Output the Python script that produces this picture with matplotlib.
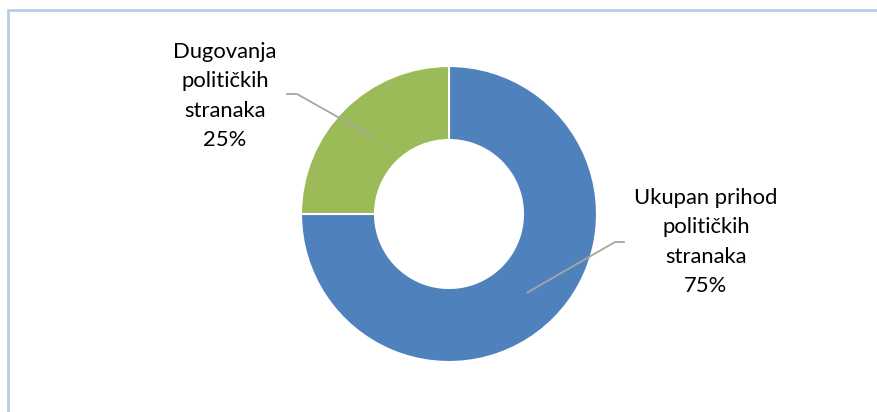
import numpy as np
import matplotlib.pyplot as plt
from matplotlib.patches import Rectangle

labels = ['Ukupan prihod\npolitičkih\nstranaka', 'Dugovanja\npolitičkih\nstranaka']
values = [75, 25]
colors = ['#4F81BD', '#9BBB59']

W, H = 878, 412
cx, cy, R = 449, 214, 148  # donut centre and radius in pixels

fig = plt.figure(figsize=(W / 100, H / 100), dpi=100)
ax = fig.add_axes([0, 0, 1, 1])

# chart frame (runs off the right and bottom edge)
fig.patches.append(Rectangle((8 / W, -0.1), 1.2, (H - 10) / H + 0.1,
                             transform=fig.transFigure, fill=False,
                             edgecolor='#B9CDE5', linewidth=2.0))

wedges, _ = ax.pie(values, colors=colors, startangle=90, counterclock=False,
                   radius=1.0, wedgeprops=dict(width=0.5, edgecolor='white', linewidth=1.5))

# pie() resets the limits, so set them afterwards
ax.set_xlim(-cx / R, (W - cx) / R)
ax.set_ylim(-(H - cy) / R, cy / R)
ax.set_aspect('equal')
ax.axis('off')


def px(x, y):
    return (x - cx) / R, (cy - y) / R


# label text positions and leader elbow points (pixels)
text_pos = [(706, 242), (225, 96)]
elbow = [((615, 242), (624, 242)), ((297, 94), (287, 94))]

for w, lab, val, tp, el in zip(wedges, labels, values, text_pos, elbow):
    ang = np.deg2rad((w.theta1 + w.theta2) / 2)
    r = 0.75
    p0 = (r * np.cos(ang), r * np.sin(ang))
    pts = [p0, px(*el[0]), px(*el[1])]
    ax.plot([p[0] for p in pts], [p[1] for p in pts], color='#A6A6A6', linewidth=1.3)
    ax.text(*px(*tp), f'{lab}\n{val}%', ha='center', va='center',
            fontsize=15.8, family='Lato', linespacing=1.6, color='black')

fig.savefig('out.png', dpi=100)
